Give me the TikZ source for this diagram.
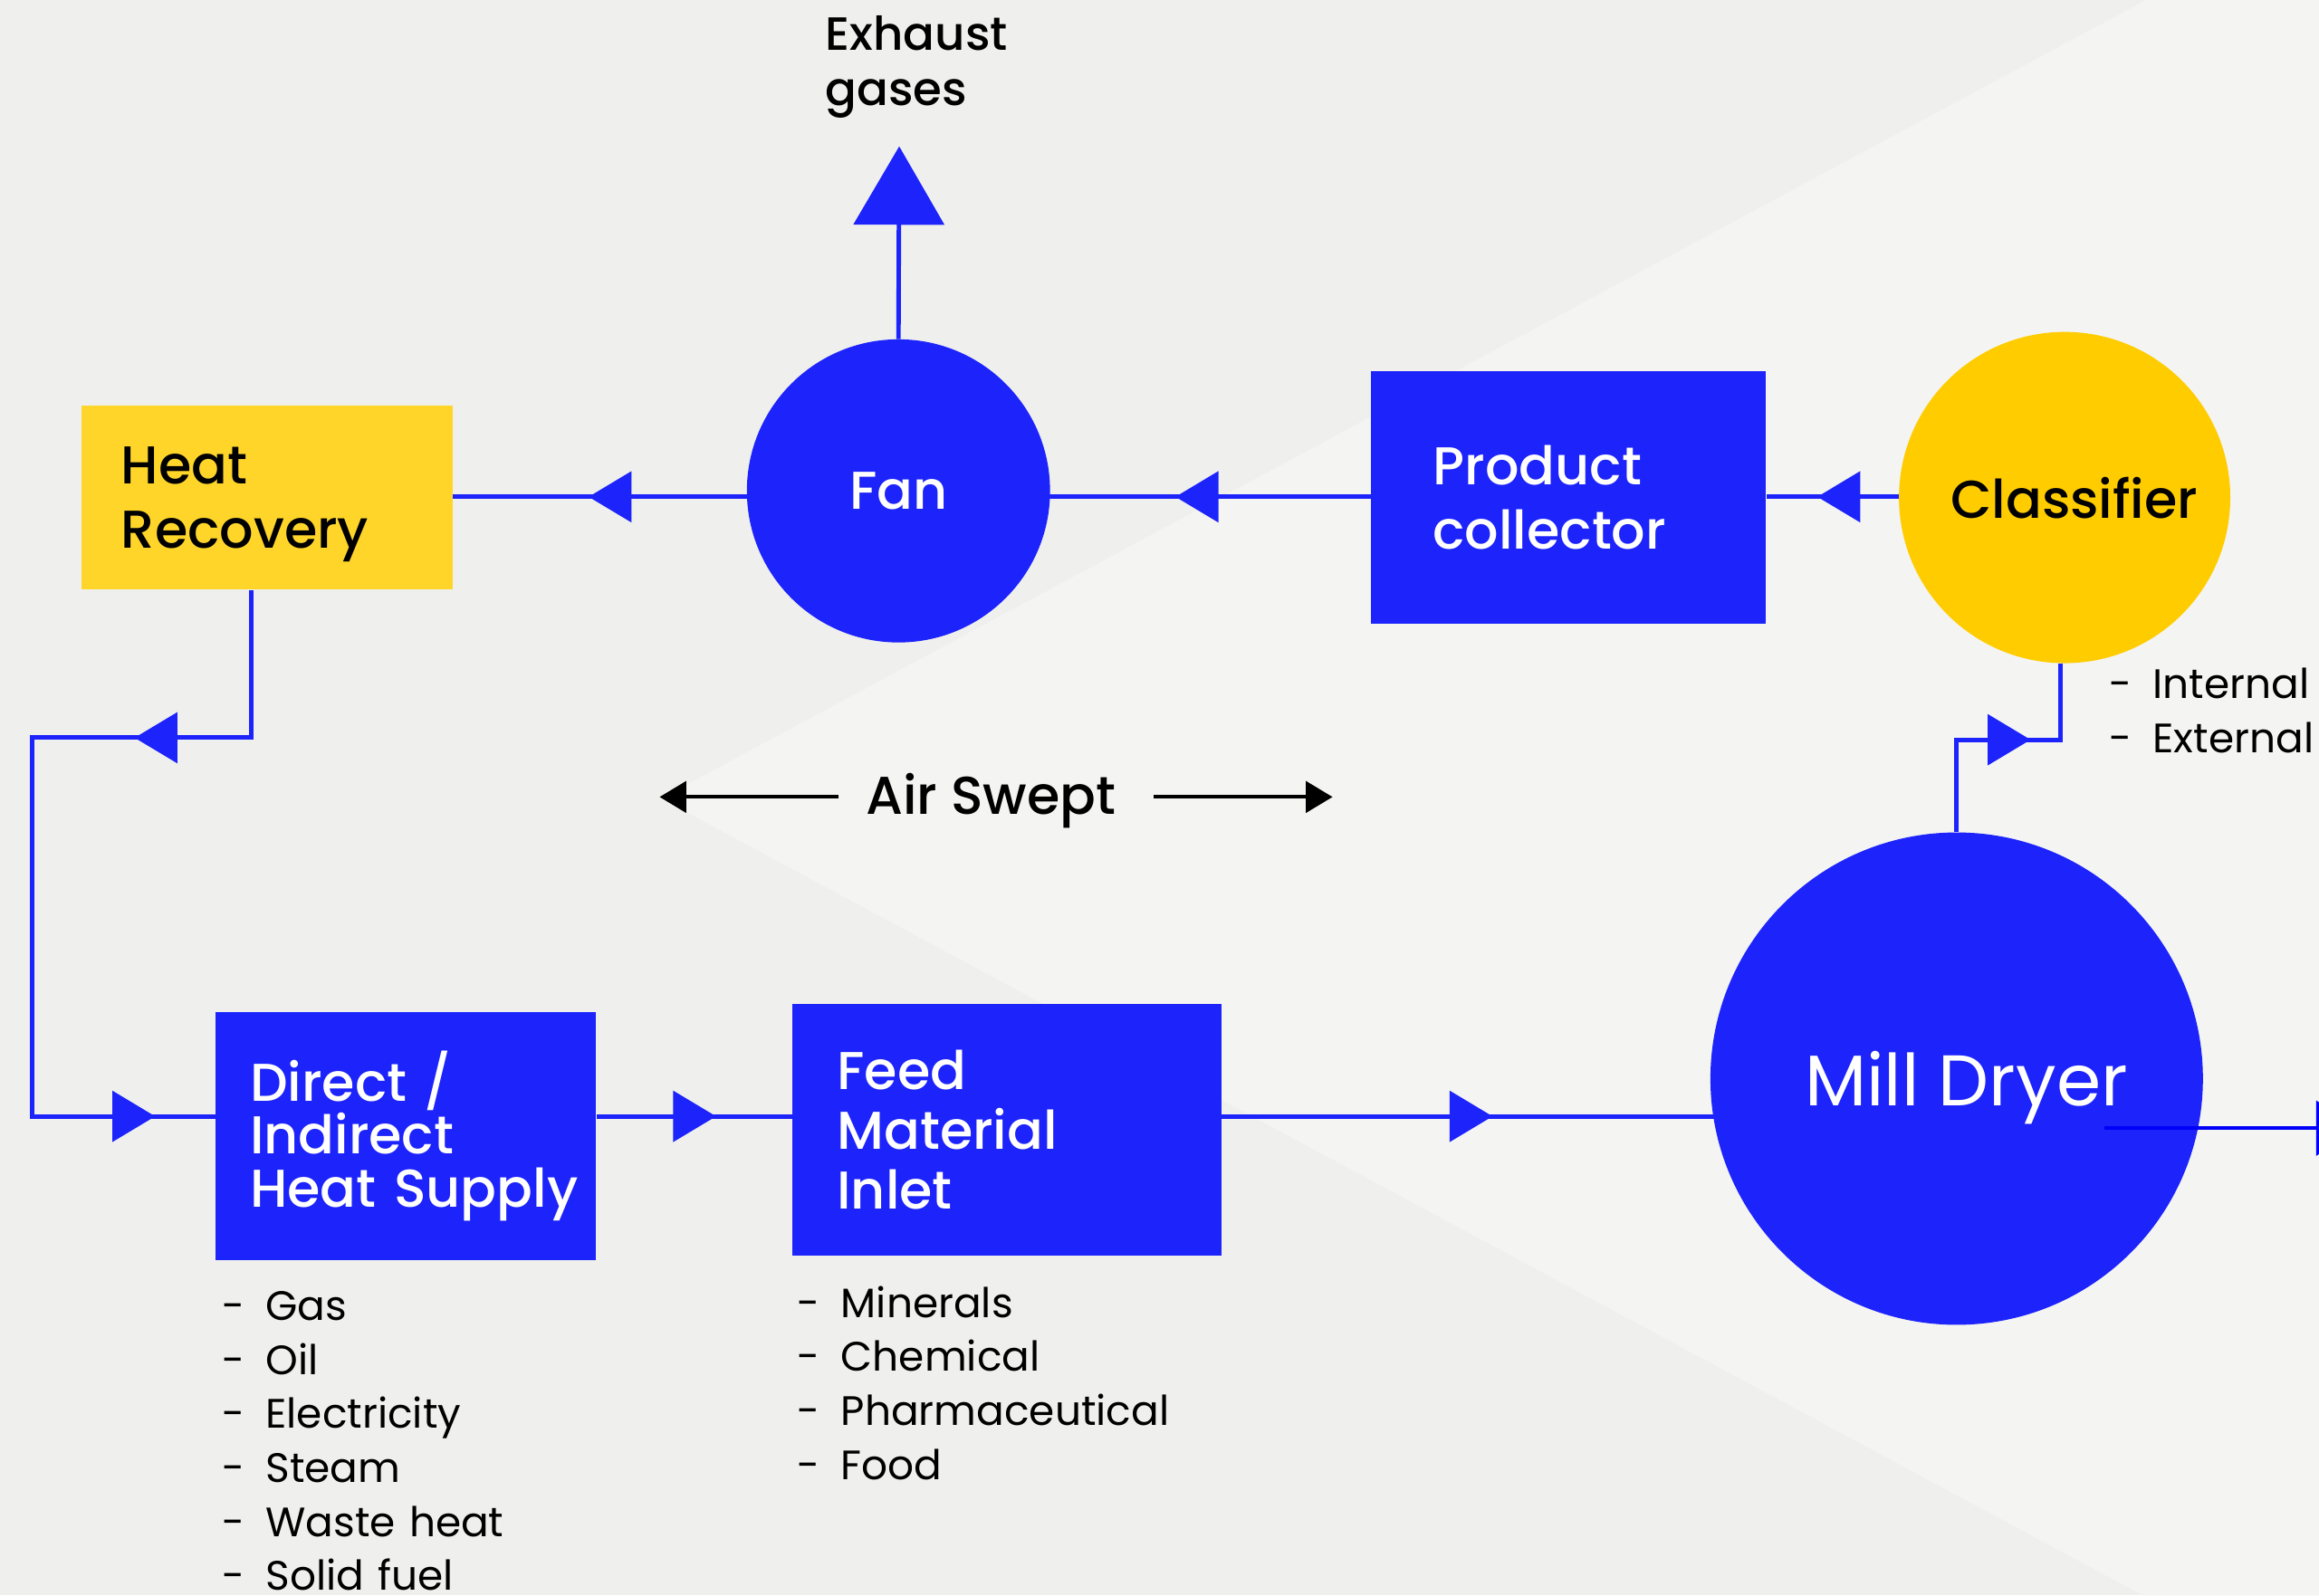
\documentclass[tikz,border=0pt]{standalone}
\usepackage{fontspec}
\setmainfont{Poppins}
\newfontfamily\medfont{Poppins}[UprightFont={* Medium}]
\usetikzlibrary{arrows.meta,decorations.markings}
\definecolor{bgdark}{HTML}{EFEFED}
\definecolor{bglight}{HTML}{F4F4F2}
\definecolor{flowblue}{HTML}{1C23FB}
\definecolor{outblue}{HTML}{0000FA}
\definecolor{hryellow}{HTML}{FFD52A}
\definecolor{clsyellow}{HTML}{FFCC00}
\pgfdeclarelayer{bg}
\pgfsetlayers{bg,main}
\tikzset{
  bluebox/.style={rectangle, fill=flowblue, text=white, align=left, inner ysep=0pt,
    font=\medfont\fontsize{36}{43}\selectfont},
  yellowbox/.style={rectangle, fill=hryellow, text=black, align=left, inner ysep=0pt,
    font=\medfont\fontsize{36}{43}\selectfont},
  disc/.style={circle, inner sep=0pt, font=\medfont\fontsize{36}{43}\selectfont},
  conn/.style={draw=flowblue, line width=3pt},
  midtip/.style={postaction={decorate}, decoration={markings,
    mark=at position #1 with {\arrow{Triangle[length=29pt,width=34pt]}}}},
  twotips/.style 2 args={postaction={decorate}, decoration={markings,
    mark=at position #1 with {\arrow{Triangle[length=29pt,width=34pt]}},
    mark=at position #2 with {\arrow{Triangle[length=29pt,width=34pt]}}}},
  listtext/.style={anchor=base west, inner sep=0pt, text width=300pt, align=left,
    font=\fontsize{27.8}{36.5}\selectfont},
}
\newcommand{\itm}[1]{\makebox[29.5pt][l]{-}#1}
\begin{document}
\begin{tikzpicture}[x=1pt,y=-1pt]
\useasboundingbox (0,0) rectangle (1568,1079);
\begin{pgfonlayer}{bg}
  \fill[bgdark] (0,0) rectangle (1568,1079);
  \fill[bglight] (447,540) -- (1451,0) -- (1568,0) -- (1568,1079) -- (1449,1079) -- cycle;
\end{pgfonlayer}

% nodes
\node[yellowbox, minimum width=251pt, minimum height=124.5pt, text width=197pt, inner xsep=27pt]
  (hr) at (180.5,336.5) {Heat\\\smash{Recovery}};
\node[disc, fill=flowblue, text=white, minimum size=205pt] (fan) at (607.5,332) {Fan};
\node[bluebox, minimum width=267pt, minimum height=170.5pt, text width=183pt, inner xsep=42pt]
  (pc) at (1060.5,336.5) {Product\\collector};
\node[disc, fill=clsyellow, text=black, minimum size=224pt] (cls) at (1396,336.5) {\hspace*{13pt}Classifier};
\node[disc, fill=flowblue, text=white, minimum size=333pt, text depth=0pt,
  font=\fontsize{48.5}{50}\selectfont] (mill) at (1323,729.5) {\hspace*{13pt}Mill Dryer};
\node[bluebox, minimum width=257pt, minimum height=167.4pt, text width=211pt, inner xsep=23pt,
  font=\medfont\fontsize{36}{36}\selectfont]
  (direct) at (274.5,768.3) {Direct /\\Indirect\\\mbox{Heat Supply}};
\node[bluebox, minimum width=290pt, minimum height=170pt, text width=230pt, inner xsep=30pt,
  font=\medfont\fontsize{36}{40.5}\selectfont]
  (feed) at (681,764) {Feed\\Material\\Inlet};

% texts
\node[anchor=base west, inner sep=0pt, text width=200pt, align=left,
  font=\medfont\fontsize{31.5}{37.5}\selectfont] (exhtext) at (558,34) {Exhaust\\gases};
\node[anchor=base, inner sep=0pt, font=\medfont\fontsize{36}{43}\selectfont] (air) at (670,550.5) {Air Swept};
\node[listtext] (heatlist) at (150,893) {\itm{Gas}\\\itm{Oil}\\\itm{Electricity}\\\itm{Steam}\\\itm{Waste heat}\\\itm{Solid fuel}};
\node[listtext] (feedlist) at (539,891) {\itm{Minerals}\\\itm{Chemical}\\\itm{Pharmaceutical}\\\itm{Food}};
\node[listtext, text width=200pt] (clslist) at (1426,472.5) {\itm{Internal}\\\itm{External}};

% coordinates
\coordinate (toprow) at (0,336);
\coordinate (row) at (0,755);
\coordinate (turn) at (21.5,755);
\coordinate (exh) at (608,99);
\coordinate (millout) at (1423,763);
\coordinate (outend) at (1595,763);
\coordinate (airLs) at (567,539);
\coordinate (airLe) at (446,539);
\coordinate (airRs) at (780,539);
\coordinate (airRe) at (901,539);

% connectors (under the shapes)
\begin{pgfonlayer}{bg}
  \draw[conn, midtip=55pt] (cls.west |- toprow) -- (pc.east |- toprow);
  \draw[conn, midtip=132pt] (pc.west |- toprow) -- (fan.center |- toprow);
  \draw[conn, midtip=209.5pt] (fan.center |- toprow) -- (hr.east |- toprow);
  \draw[conn, twotips={179pt}{588pt}] ([xshift=-10.5pt]hr.south) -- ++(0,100) -| (turn) -- (direct.west |- row);
  \draw[conn, midtip=81pt] (direct.east |- row) -- (feed.west |- row);
  \draw[conn, midtip=183pt] (feed.east |- row) -- (mill.center |- row);
  \draw[conn, midtip=112.5pt] (mill.north) -- ++(0,-62.5) -| ([xshift=-3pt]cls.south);
  \draw[conn, -{Triangle[length=53pt,width=61pt]}] (fan.north) -- (exh);
\end{pgfonlayer}
\draw[draw=outblue, line width=2.5pt, -{Triangle[length=29pt,width=37pt]}] (millout) -- (outend);
\draw[black, line width=2.5pt, -{Triangle[length=18pt,width=21pt]}] (airLs) -- (airLe);
\draw[black, line width=2.5pt, -{Triangle[length=18pt,width=21pt]}] (airRs) -- (airRe);
\end{tikzpicture}
\end{document}
